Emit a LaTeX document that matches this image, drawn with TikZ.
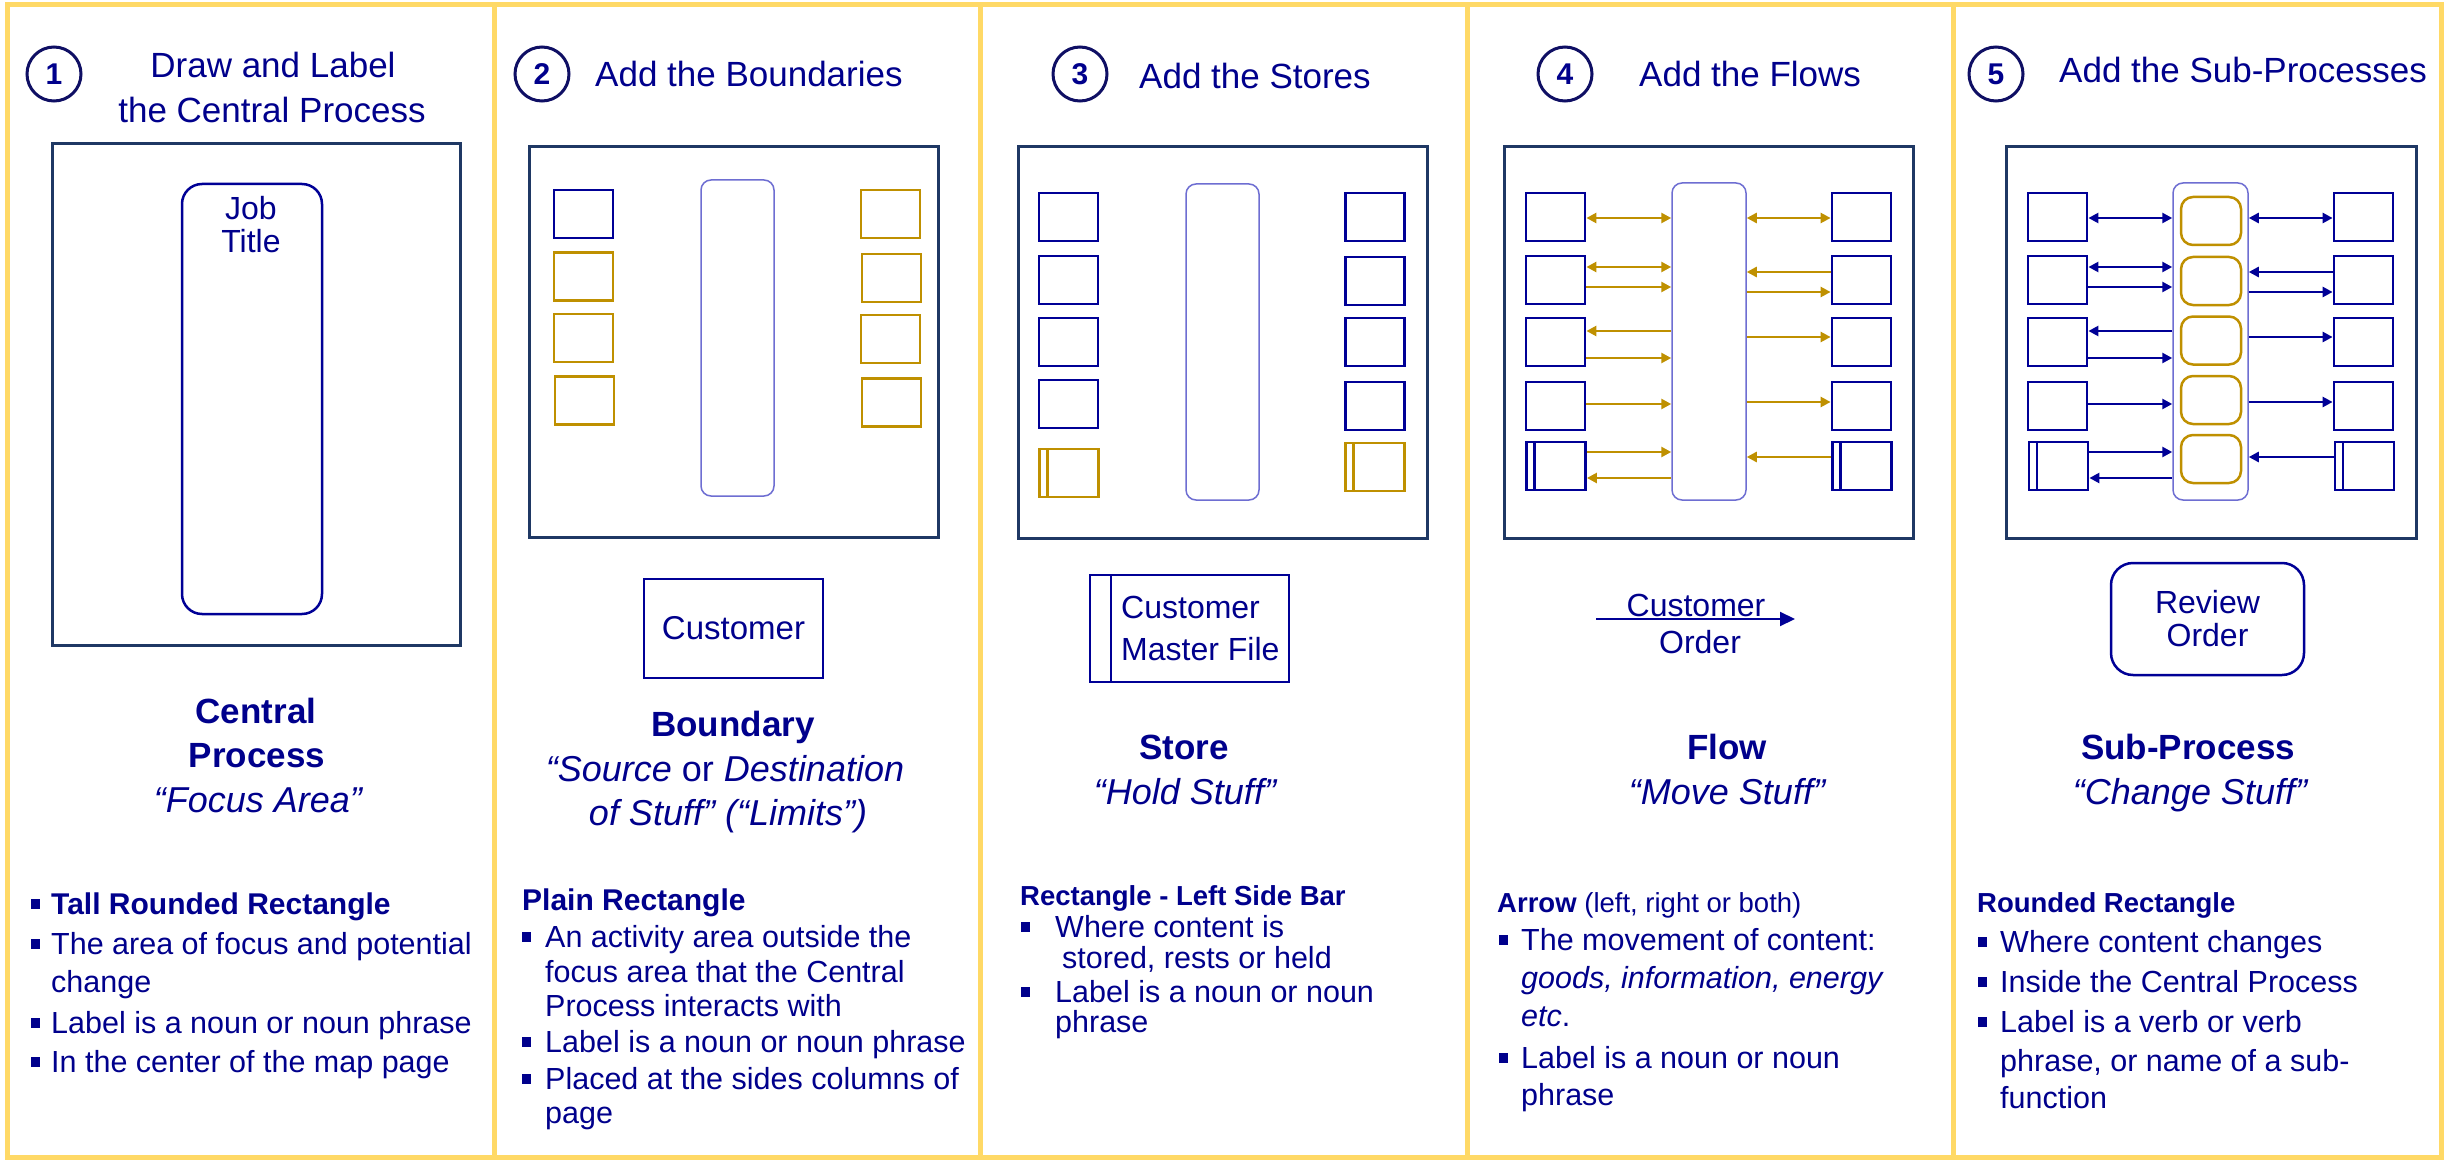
\documentclass[tikz,border=0pt]{standalone}
\usepackage{fontspec}
\setmainfont{Liberation Sans}
\usetikzlibrary{arrows.meta}

\definecolor{frameyellow}{RGB}{255,217,102}
\definecolor{mapnavy}{RGB}{31,56,100}
\definecolor{shapeblue}{RGB}{0,0,150}
\definecolor{textblue}{RGB}{0,0,140}
\definecolor{circnavy}{RGB}{15,15,100}
\definecolor{gold}{RGB}{191,144,0}
\definecolor{procline}{RGB}{110,110,210}

\newcommand\fsz[1]{\fontsize{#1}{#1}\selectfont}
% bullet square hanging to the left of a line
\newcommand\bsq[1]{\llap{\rule[5.5pt]{9pt}{9.5pt}\hspace{#1}}}
% flows between a side box and the central process
\newcommand\flowL[4]{\path ([yshift=#3]#2.east) coordinate (tmpa);
  \draw[#1] (tmpa) -- (tmpa -| #4.west);}
\newcommand\flowR[4]{\path ([yshift=#3]#2.west) coordinate (tmpa);
  \draw[#1] (tmpa -| #4.east) -- (tmpa);}

\tikzset{
  frame/.style={draw=frameyellow, line width=5pt},
  mapbox/.style={rectangle, draw=mapnavy, line width=3pt, inner sep=0pt},
  bnd/.style={rectangle, draw=shapeblue, line width=2.8pt, minimum width=59pt, minimum height=48pt, inner sep=0pt},
  bndg/.style={bnd, draw=gold, line width=2.6pt},
  storeb/.style={bnd, path picture={\draw[shapeblue, line width=2.5pt]
      ([xshift=8pt]path picture bounding box.north west) -- ([xshift=8pt]path picture bounding box.south west);}},
  storeg/.style={bndg, path picture={\draw[gold, line width=2.5pt]
      ([xshift=8pt]path picture bounding box.north west) -- ([xshift=8pt]path picture bounding box.south west);}},
  cproc/.style={rectangle, draw=procline, line width=1.5pt, rounded corners=10pt, inner sep=0pt, minimum width=73pt, minimum height=316pt},
  subp/.style={rectangle, draw=gold, line width=2.5pt, rounded corners=12pt, inner sep=0pt, minimum width=60pt, minimum height=48pt},
  stepcirc/.style={circle, draw=circnavy, line width=3pt, minimum size=54pt, inner sep=0pt, text=textblue, font=\bfseries\fsz{30}},
  tc/.style={anchor=base, inner sep=0pt, text=textblue},
  tl/.style={anchor=base west, inner sep=0pt, text=textblue},
  ga/.style={draw=gold, line width=2.6pt},
  ba/.style={draw=shapeblue, line width=2.6pt},
  >={Triangle[length=10pt,width=10pt]},
}

\begin{document}
\begin{tikzpicture}[x=1pt,y=-1pt]
\useasboundingbox (0,0) rectangle (2450,1161);
\fill[white] (0,0) rectangle (2450,1161);

% ---- panel frames
\foreach \a/\b in {7/494,494/980,980/1467,1467/1953,1953/2441}
  \draw[frame] (\a,5) rectangle (\b,1157);

% ---- step numbers and headings
\node[stepcirc] (n1) at (54,74) {1};
\node[stepcirc] (n2) at (542,74) {2};
\node[stepcirc] (n3) at (1080,74) {3};
\node[stepcirc] (n4) at (1565,74) {4};
\node[stepcirc] (n5) at (1996,74) {5};
\node[tc, font=\fsz{35}] (h1a) at (273,78) {Draw and Label};
\node[tc, font=\fsz{35}] (h1b) at (272,123) {the Central Process};
\node[tl, font=\fsz{35}] (h2) at (595,87) {Add the Boundaries};
\node[tl, font=\fsz{35}] (h3) at (1139,89) {Add the Stores};
\node[tl, font=\fsz{35}] (h4) at (1639,87) {Add the Flows};
\node[tl, font=\fsz{35}] (h5) at (2059,83) {Add the Sub-Processes};

% ================= panel 1: central process
\node[mapbox, minimum width=408pt, minimum height=501pt] (p1M) at (256,394.5) {};
\node[rectangle, draw=shapeblue, line width=2.5pt, rounded corners=20pt, minimum width=140pt, minimum height=430pt] (p1C) at (252,399) {};
\node[tc, font=\fsz{32}] (p1j) at (251,220) {Job};
\node[tc, font=\fsz{32}] (p1t) at (251,253) {Title};

\node[tc, font=\bfseries\fsz{35}] (p1k1) at (256,723) {Central};
\node[tc, font=\bfseries\fsz{35}] (p1k2) at (257,767) {Process};
\node[tc, font=\itshape\fsz{36}] (p1k3) at (258,812) {“Focus Area”};
\node[tl, font=\bfseries\fsz{30}] (p1b1) at (51,914) {\bsq{11pt}Tall Rounded Rectangle};
\node[tl, font=\fsz{30.5}] (p1b2) at (51,954) {\bsq{11pt}The area of focus and potential};
\node[tl, font=\fsz{30.5}] (p1b3) at (51,992) {change};
\node[tl, font=\fsz{30.5}] (p1b4) at (51,1033) {\bsq{11pt}Label is a noun or noun phrase};
\node[tl, font=\fsz{30.5}] (p1b5) at (51,1072) {\bsq{11pt}In the center of the map page};

% ================= panel 2: boundaries
\node[mapbox, minimum width=409pt, minimum height=390pt] (p2M) at (733.5,342) {};
\node[cproc] (p2C) at (737.5,338) {};
\node[bnd]  (p2L1) at (583.5,214) {};
\node[bndg] (p2L2) at (583.5,276.5) {};
\node[bndg] (p2L3) at (583.5,338) {};
\node[bndg] (p2L4) at (584.5,400.5) {};
\node[bndg] (p2R1) at (890.5,214) {};
\node[bndg] (p2R2) at (891.5,278) {};
\node[bndg] (p2R3) at (890.5,339) {};
\node[bndg] (p2R4) at (891.5,402.5) {};
\node[rectangle, draw=shapeblue, line width=2.5pt, minimum width=179pt, minimum height=99pt, inner sep=0pt,
      text=textblue, font=\fsz{33}] (p2B) at (733.5,628.5) {Customer};

\node[tc, font=\bfseries\fsz{35}] (p2k1) at (733,736) {Boundary};
\node[tc, font=\fsz{36}] (p2k2) at (725,781) {\textit{“Source} or \textit{Destination}};
\node[tc, font=\itshape\fsz{36}] (p2k3) at (728,825) {of Stuff” (“Limits”)};
\node[tl, font=\bfseries\fsz{30}] (p2b0) at (522,910) {Plain Rectangle};
\node[tl, font=\fsz{30.5}] (p2b1) at (545,947) {\bsq{14pt}An activity area outside the};
\node[tl, font=\fsz{30.5}] (p2b2) at (545,982) {focus area that the Central};
\node[tl, font=\fsz{30.5}] (p2b3) at (545,1016) {Process interacts with};
\node[tl, font=\fsz{30.5}] (p2b4) at (545,1052) {\bsq{14pt}Label is a noun or noun phrase};
\node[tl, font=\fsz{30.5}] (p2b5) at (545,1089) {\bsq{14pt}Placed at the sides columns of};
\node[tl, font=\fsz{30.5}] (p2b6) at (545,1123) {page};

% ================= panel 3: stores
\node[mapbox, minimum width=409pt, minimum height=391pt] (p3M) at (1222.5,342.5) {};
\node[cproc] (p3C) at (1222.5,342) {};
\foreach \i/\yy in {1/217,2/280,3/342,4/404}
  \node[bnd] (p3L\i) at (1068.5,\yy) {};
\foreach \i/\yy in {1/217,2/281,3/342,4/406}
  \node[bnd] (p3R\i) at (1375,\yy) {};
\node[storeg] (p3L5) at (1069,473) {};
\node[storeg] (p3R5) at (1375,467) {};
\node[rectangle, draw=shapeblue, line width=2.5pt, minimum width=199pt, minimum height=107pt, inner sep=0pt,
      path picture={\draw[shapeblue, line width=2.2pt]
        ([xshift=21pt]path picture bounding box.north west) -- ([xshift=21pt]path picture bounding box.south west);}]
      (p3S) at (1189.5,628.5) {};
\node[tl, font=\fsz{32}] (p3Sa) at (1121,618) {Customer};
\node[tl, font=\fsz{32}] (p3Sb) at (1121,660) {Master File};

\node[tc, font=\bfseries\fsz{35}] (p3k1) at (1184,759) {Store};
\node[tc, font=\itshape\fsz{36}] (p3k2) at (1185,804) {“Hold Stuff”};
\node[tl, font=\bfseries\fsz{27.5}] (p3b0) at (1020,905) {Rectangle - Left Side Bar};
\node[tl, font=\fsz{30.5}] (p3b1) at (1055,937) {\bsq{25pt}Where content is};
\node[tl, font=\fsz{30.5}] (p3b2) at (1062,968) {stored, rests or held};
\node[tl, font=\fsz{30.5}] (p3b3) at (1055,1002) {\bsq{25pt}Label is a noun or noun};
\node[tl, font=\fsz{30.5}] (p3b4) at (1055,1032) {phrase};

% ================= panel 4: flows
\node[mapbox, minimum width=409pt, minimum height=391pt] (p4M) at (1708.5,342.5) {};
\node[cproc, minimum width=74pt, minimum height=317pt] (p4C) at (1709,341.5) {};
\foreach \i/\yy in {1/217,2/280,3/342,4/406}{
  \node[bnd] (p4L\i) at (1555.5,\yy) {};
  \node[bnd] (p4R\i) at (1861.5,\yy) {};}
\node[storeb] (p4L5) at (1556,466) {};
\node[storeb] (p4R5) at (1862,466) {};

\flowL{ga,<->}{p4L1}{-1pt}{p4C}
\flowL{ga,<->}{p4L2}{13pt}{p4C}
\flowL{ga,->}{p4L2}{-7pt}{p4C}
\flowL{ga,<-}{p4L3}{11pt}{p4C}
\flowL{ga,->}{p4L3}{-16pt}{p4C}
\flowL{ga,->}{p4L4}{2pt}{p4C}
\flowL{ga,->}{p4L5}{14pt}{p4C}
\flowL{ga,<-}{p4L5}{-12pt}{p4C}
\flowR{ga,<->}{p4R1}{-1pt}{p4C}
\flowR{ga,<-}{p4R2}{8pt}{p4C}
\flowR{ga,->}{p4R2}{-12pt}{p4C}
\flowR{ga,->}{p4R3}{5pt}{p4C}
\flowR{ga,->}{p4R4}{4pt}{p4C}
\flowR{ga,<-}{p4R5}{9pt}{p4C}

\node[tc, font=\fsz{32}] (p4fa) at (1696,616) {Customer};
\node[tc, font=\fsz{32}] (p4fb) at (1700,653) {Order};
\coordinate (p4f0) at (1596,619);
\coordinate (p4f1) at (1795,619);
\draw[draw=shapeblue, line width=2pt, -{Triangle[length=15pt,width=14pt]}] (p4f0) -- (p4f1);

\node[tc, font=\bfseries\fsz{35}] (p4k1) at (1727,759) {Flow};
\node[tc, font=\itshape\fsz{36}] (p4k2) at (1727,804) {“Move Stuff”};
\node[tl, font=\fsz{27.5}] (p4b0) at (1497,912) {\textbf{Arrow} (left, right or both)};
\node[tl, font=\fsz{30.5}] (p4b1) at (1521,950) {\bsq{13pt}The movement of content:};
\node[tl, font=\fsz{30.5}] (p4b2) at (1521,988) {\textit{goods, information, energy}};
\node[tl, font=\fsz{30.5}] (p4b3) at (1521,1026) {\textit{etc}.};
\node[tl, font=\fsz{30.5}] (p4b4) at (1521,1068) {\bsq{13pt}Label is a noun or noun};
\node[tl, font=\fsz{30.5}] (p4b5) at (1521,1105) {phrase};

% ================= panel 5: sub-processes
\node[mapbox, minimum width=410pt, minimum height=391pt] (p5M) at (2211,342.5) {};
\node[cproc, minimum width=75pt, minimum height=317pt] (p5C) at (2210.5,341.5) {};
\foreach \i/\yy in {1/221,2/281,3/340.5,4/400,5/459}
  \node[subp] (p5S\i) at (2211,\yy) {};
\foreach \i/\yy in {1/217,2/280,3/342,4/406}{
  \node[bnd] (p5L\i) at (2057.5,\yy) {};
  \node[bnd] (p5R\i) at (2363.5,\yy) {};}
\node[storeb] (p5L5) at (2058.5,466) {};
\node[storeb] (p5R5) at (2364.5,466) {};

\flowL{ba,<->}{p5L1}{-1pt}{p5C}
\flowL{ba,<->}{p5L2}{13pt}{p5C}
\flowL{ba,->}{p5L2}{-7pt}{p5C}
\flowL{ba,<-}{p5L3}{11pt}{p5C}
\flowL{ba,->}{p5L3}{-16pt}{p5C}
\flowL{ba,->}{p5L4}{2pt}{p5C}
\flowL{ba,->}{p5L5}{14pt}{p5C}
\flowL{ba,<-}{p5L5}{-12pt}{p5C}
\flowR{ba,<->}{p5R1}{-1pt}{p5C}
\flowR{ba,<-}{p5R2}{8pt}{p5C}
\flowR{ba,->}{p5R2}{-12pt}{p5C}
\flowR{ba,->}{p5R3}{5pt}{p5C}
\flowR{ba,->}{p5R4}{4pt}{p5C}
\flowR{ba,<-}{p5R5}{9pt}{p5C}

\node[rectangle, draw=shapeblue, line width=2.5pt, rounded corners=22pt, minimum width=193pt, minimum height=112pt,
      inner sep=0pt, align=center, text=textblue, font=\fontsize{32}{33}\selectfont] (p5B) at (2207.5,619) {Review\\Order};

\node[tc, font=\bfseries\fsz{35}] (p5k1) at (2188,759) {Sub-Process};
\node[tc, font=\itshape\fsz{36}] (p5k2) at (2190,804) {“Change Stuff”};
\node[tl, font=\bfseries\fsz{27.5}] (p5b0) at (1977,912) {Rounded Rectangle};
\node[tl, font=\fsz{30.5}] (p5b1) at (2000,952) {\bsq{13pt}Where content changes};
\node[tl, font=\fsz{30.5}] (p5b2) at (2000,992) {\bsq{13pt}Inside the Central Process};
\node[tl, font=\fsz{30.5}] (p5b3) at (2000,1032) {\bsq{13pt}Label is a verb or verb};
\node[tl, font=\fsz{30.5}] (p5b4) at (2000,1071) {phrase, or name of a sub-};
\node[tl, font=\fsz{30.5}] (p5b5) at (2000,1108) {function};
\end{tikzpicture}
\end{document}
